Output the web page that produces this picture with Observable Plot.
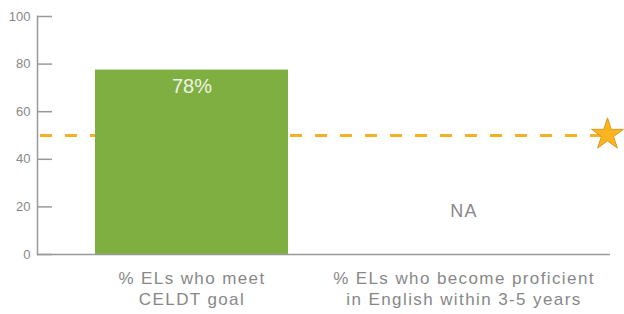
<!DOCTYPE html>
<html><head><meta charset="utf-8">
<script src="https://cdn.jsdelivr.net/npm/d3@7"></script>
<script src="https://cdn.jsdelivr.net/npm/@observablehq/plot@0.6"></script>
<style>body{margin:0;background:#fff}</style>
</head><body><div id="chart"></div>
<script>
const categories = ["% ELs who meet\nCELDT goal", "% ELs who become proficient\nin English within 3-5 years"];
const values = [77.5, null];
const valueLabels = ["78%", "NA"];
const goal = [50];
const yTicks = [0, 20, 40, 60, 80, 100];

const data = categories.map((c, i) => ({cat: c, value: values[i], label: valueLabels[i]}));
const font = "Liberation Sans, Arial, sans-serif";

const chart = Plot.plot({
  width: 624, height: 314,
  marginTop: 16, marginBottom: 60, marginLeft: 37, marginRight: 14,
  style: {fontFamily: font, background: "#fff"},
  x: {domain: categories, range: [37, 619], paddingInner: 0.29, paddingOuter: 0.213, axis: null},
  y: {domain: [0, 100], axis: null},
  marks: [
    Plot.ruleY(goal, {stroke: "#F5B025", strokeWidth: 3, strokeDasharray: "12,13", insetLeft: 3}),
    Plot.barY(data.filter(d => d.value != null), {x: "cat", y: "value", fill: "#80AF41"}),
    Plot.ruleY([0], {stroke: "#999", strokeWidth: 1.5}),
    Plot.frame({anchor: "left", stroke: "#999", strokeWidth: 1.5}),
    Plot.axisY({ticks: yTicks, tickSize: -15, tickPadding: 22, stroke: "#999", strokeWidth: 1.5, fontSize: 13, color: "#888", label: null}),
    Plot.text(data.filter(d => d.value != null), {x: "cat", y: "value", text: "label", dy: 17, fill: "#EEF3E4", fontSize: 20, lineAnchor: "middle"}),
    Plot.text(data.filter(d => d.value == null), {x: "cat", y: 18, text: "label", fill: "#888", fontSize: 18, lineAnchor: "middle"}),
    Plot.text(data, {x: "cat", text: "cat", frameAnchor: "bottom", dy: 15, lineAnchor: "top", lineHeight: 1.235, fontSize: 17, fill: "#888"}),
    Plot.dot(goal, {y: d => d, frameAnchor: "right", dx: -3, dy: -1, symbol: "star", r: 10, fill: "#FBB521", stroke: "#D99A1A", strokeWidth: 1})
  ]
});
d3.select(chart).selectAll('g[aria-label="text"]').filter((d, i, n) => i === n.length - 1).attr("letter-spacing", "1.4px");
d3.select(chart).selectAll('g[aria-label="text"]').filter((d, i) => i === 1).attr("letter-spacing", "1.2px");
document.getElementById("chart").append(chart);
</script></body></html>
